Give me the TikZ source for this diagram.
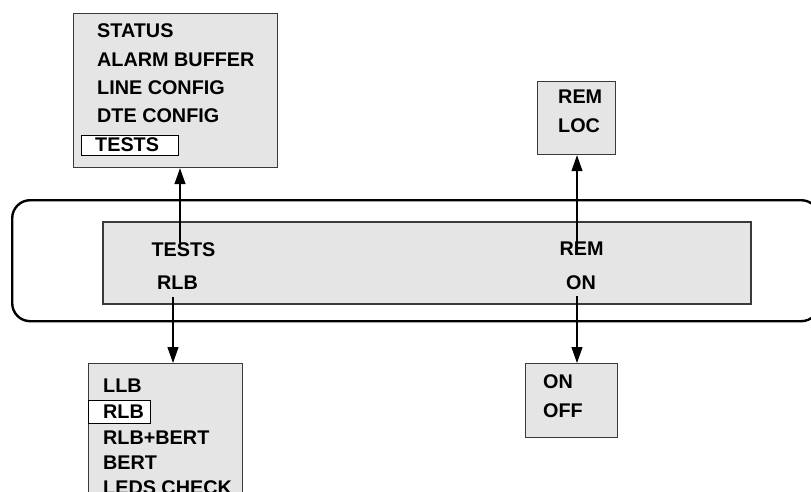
\documentclass[tikz,border=0pt]{standalone}
\usepackage{fontspec}
\setmainfont{Liberation Sans}
\usetikzlibrary{arrows.meta}
\definecolor{panelgray}{HTML}{E5E5E5}
\definecolor{edgegray}{HTML}{3A3A3A}
\tikzset{
  menubox/.style={draw=edgegray, line width=1.2pt, fill=panelgray, inner sep=0pt, anchor=north west},
  selbox/.style={draw=black, line width=1.2pt, fill=white, inner sep=0pt, anchor=north west},
  lbl/.style={font=\bfseries\fontsize{19.8}{21}\selectfont, inner sep=0pt, text height=14pt, text depth=0pt},
  lblw/.style={lbl, anchor=west},
  arr/.style={line width=1.2pt, -{Triangle[length=16pt,width=11pt]}},
}
\begin{document}
\begin{tikzpicture}[x=1pt,y=-1pt]
  \useasboundingbox (0,0) rectangle (811,492);
  \clip (0,0) rectangle (811,492);

  % front panel frame and display window
  \node[draw=black, line width=2.4pt, rounded corners=18pt, minimum width=807pt, minimum height=121pt, inner sep=0pt, anchor=north west] (frame) at (11,199) {};
  \node[menubox, line width=1.5pt, minimum width=648pt, minimum height=82pt] (display) at (102,221) {};
  \node[lbl] (dtests) at (183.5,249) {TESTS};
  \node[lbl] (drlb) at (177.5,282) {RLB};
  \node[lbl] (drem) at (581.5,248) {REM};
  \node[lbl] (don) at (581,282) {ON};

  % main menu
  \node[menubox, minimum width=204pt, minimum height=154pt] (mainmenu) at (73,13) {};
  \node[selbox, minimum width=97pt, minimum height=20pt] (selTests) at (81,135) {};
  \node[lblw] (mStatus) at (97,31) {STATUS};
  \node[lblw] (mAlarm) at (97,59.5) {ALARM BUFFER};
  \node[lblw] (mLine) at (97,88) {LINE CONFIG};
  \node[lblw] (mDte) at (97,116) {DTE CONFIG};
  \node[lblw] (mTests) at (95,144) {TESTS};

  % REM / LOC choice
  \node[menubox, minimum width=78pt, minimum height=73pt] (remloc) at (537,81) {};
  \node[lblw] (cRem) at (558,97) {REM};
  \node[lblw] (cLoc) at (558,125) {LOC};

  % test menu
  \node[menubox, minimum width=154pt, minimum height=160pt] (testmenu) at (88,363) {};
  \node[selbox, minimum width=62pt, minimum height=23pt] (selRlb) at (88,400) {};
  \node[lblw] (tLlb) at (103,385) {LLB};
  \node[lblw] (tRlb) at (103,411.5) {RLB};
  \node[lblw] (tRlbBert) at (103,437) {RLB+BERT};
  \node[lblw] (tBert) at (103,462) {BERT};
  \node[lblw] (tLeds) at (103,487.5) {LEDS CHECK};

  % ON / OFF choice
  \node[menubox, minimum width=92pt, minimum height=74pt] (onoff) at (525,363) {};
  \node[lblw] (oOn) at (543,381) {ON};
  \node[lblw] (oOff) at (543,410) {OFF};

  % connectors
  \coordinate (xTests) at (180,0);
  \coordinate (xRlb) at (173,0);
  \coordinate (xRem) at (577,0);
  \draw[arr] ([yshift=-1pt]dtests.north -| xTests) -- (mainmenu.south -| xTests);
  \draw[arr] ([yshift=-8pt]drlb.south -| xRlb) -- (testmenu.north -| xRlb);
  \draw[arr] ([yshift=-10pt]drem.north -| xRem) -- (remloc.south -| xRem);
  \draw[arr] ([yshift=-7pt]don.south -| xRem) -- (onoff.north -| xRem);
\end{tikzpicture}
\end{document}
